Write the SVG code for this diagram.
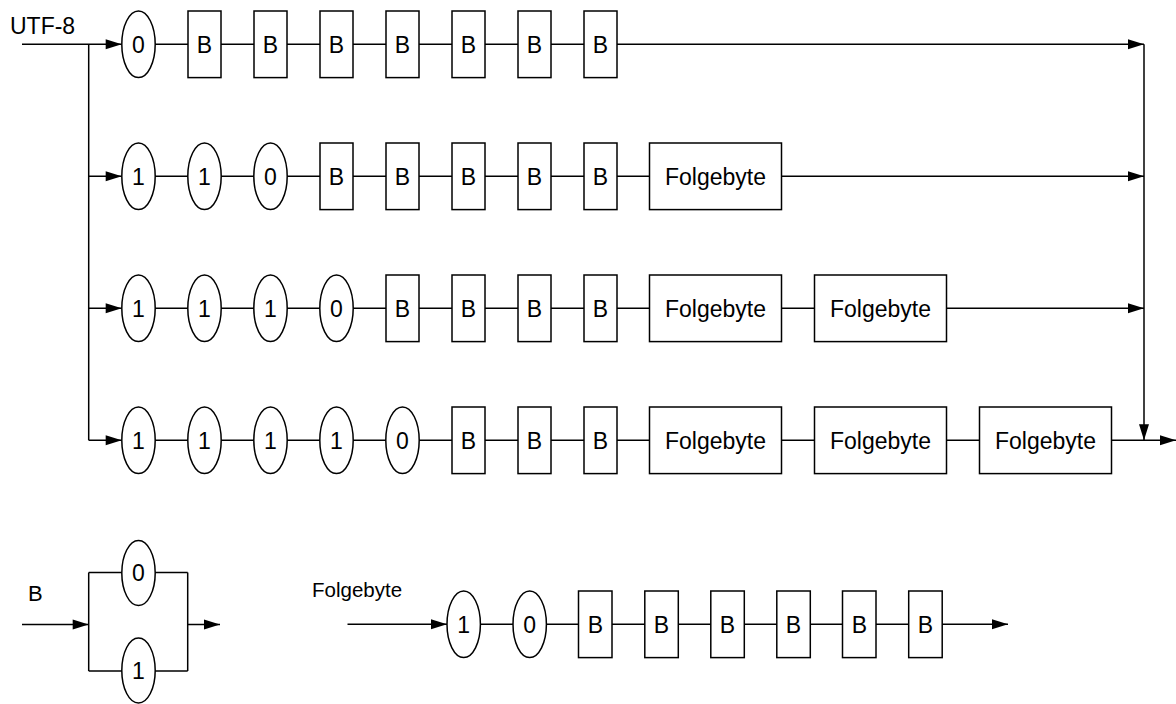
<svg xmlns="http://www.w3.org/2000/svg" width="1176" height="704" viewBox="0 0 1176 704">
<defs>
<marker id="ah" markerUnits="userSpaceOnUse" markerWidth="17" markerHeight="11" refX="16" refY="5" orient="auto" overflow="visible">
<path d="M0,0 L16,5 L0,10 z" fill="#000"/>
</marker>
<style>
.ln{fill:none;stroke:#000;stroke-width:1.5}
.ar{fill:none;stroke:#000;stroke-width:1.5;marker-end:url(#ah)}
.nd ellipse,.nd rect{fill:#fff;stroke:#000;stroke-width:1.5}
.nd text{font-family:"Liberation Sans",Arial,sans-serif;font-size:23px;text-anchor:middle;fill:#000}
.lb{font-family:"Liberation Sans",Arial,sans-serif;font-size:22px;fill:#000}
</style>
</defs>
<rect width="1176" height="704" fill="#fff"/>
<g id="connectors">
<path class="ar" d="M22,44.3 H121.7"/>
<path class="ln" d="M88.7,44.3 V440.3"/>
<path class="ar" d="M88.7,176.3 H121.7"/>
<path class="ar" d="M88.7,308.3 H121.7"/>
<path class="ar" d="M88.7,440.3 H121.7"/>
<path class="ar" d="M155,44.3 H1144"/>
<path class="ar" d="M155,176.3 H1144"/>
<path class="ar" d="M155,308.3 H1144"/>
<path class="ar" d="M155,440.3 H1176"/>
<path class="ar" d="M1144,44.3 V440.3"/>
<path class="ar" d="M22,624.5 H88.7"/>
<path class="ln" d="M88.7,572.5 V671 M88.7,572.5 H187.7 M88.7,671 H187.7 M187.7,572.5 V671"/>
<path class="ar" d="M187.7,624.5 H220"/>
<path class="ar" d="M347.5,624.3 H447"/>
<path class="ar" d="M480,624.3 H1008"/>
</g>
<text class="lb" x="10" y="34" style="font-size:23px">UTF-8</text>
<text class="lb" x="28" y="601">B</text>
<text class="lb" x="312" y="597" style="font-size:20.5px">Folgebyte</text>
<g id="row1" class="nd">
<g id="r1n0"><ellipse cx="138.5" cy="44.3" rx="16.7" ry="33.3"/><text x="138.5" y="52.5">0</text></g>
<g id="r1n1"><rect x="188" y="11" width="33" height="66.6"/><text x="204.5" y="52.5">B</text></g>
<g id="r1n2"><rect x="254" y="11" width="33" height="66.6"/><text x="270.5" y="52.5">B</text></g>
<g id="r1n3"><rect x="320" y="11" width="33" height="66.6"/><text x="336.5" y="52.5">B</text></g>
<g id="r1n4"><rect x="386" y="11" width="33" height="66.6"/><text x="402.5" y="52.5">B</text></g>
<g id="r1n5"><rect x="452" y="11" width="33" height="66.6"/><text x="468.5" y="52.5">B</text></g>
<g id="r1n6"><rect x="518" y="11" width="33" height="66.6"/><text x="534.5" y="52.5">B</text></g>
<g id="r1n7"><rect x="584" y="11" width="33" height="66.6"/><text x="600.5" y="52.5">B</text></g>
</g>
<g id="row2" class="nd">
<g id="r2n0"><ellipse cx="138.5" cy="176.3" rx="16.7" ry="33.3"/><text x="138.5" y="184.5">1</text></g>
<g id="r2n1"><ellipse cx="204.5" cy="176.3" rx="16.7" ry="33.3"/><text x="204.5" y="184.5">1</text></g>
<g id="r2n2"><ellipse cx="270.5" cy="176.3" rx="16.7" ry="33.3"/><text x="270.5" y="184.5">0</text></g>
<g id="r2n3"><rect x="320" y="143" width="33" height="66.6"/><text x="336.5" y="184.5">B</text></g>
<g id="r2n4"><rect x="386" y="143" width="33" height="66.6"/><text x="402.5" y="184.5">B</text></g>
<g id="r2n5"><rect x="452" y="143" width="33" height="66.6"/><text x="468.5" y="184.5">B</text></g>
<g id="r2n6"><rect x="518" y="143" width="33" height="66.6"/><text x="534.5" y="184.5">B</text></g>
<g id="r2n7"><rect x="584" y="143" width="33" height="66.6"/><text x="600.5" y="184.5">B</text></g>
<g id="r2f1"><rect x="649.5" y="143" width="132" height="66.6"/><text x="715.5" y="184.5">Folgebyte</text></g>
</g>
<g id="row3" class="nd">
<g id="r3n0"><ellipse cx="138.5" cy="308.3" rx="16.7" ry="33.3"/><text x="138.5" y="316.5">1</text></g>
<g id="r3n1"><ellipse cx="204.5" cy="308.3" rx="16.7" ry="33.3"/><text x="204.5" y="316.5">1</text></g>
<g id="r3n2"><ellipse cx="270.5" cy="308.3" rx="16.7" ry="33.3"/><text x="270.5" y="316.5">1</text></g>
<g id="r3n3"><ellipse cx="336.5" cy="308.3" rx="16.7" ry="33.3"/><text x="336.5" y="316.5">0</text></g>
<g id="r3n4"><rect x="386" y="275" width="33" height="66.6"/><text x="402.5" y="316.5">B</text></g>
<g id="r3n5"><rect x="452" y="275" width="33" height="66.6"/><text x="468.5" y="316.5">B</text></g>
<g id="r3n6"><rect x="518" y="275" width="33" height="66.6"/><text x="534.5" y="316.5">B</text></g>
<g id="r3n7"><rect x="584" y="275" width="33" height="66.6"/><text x="600.5" y="316.5">B</text></g>
<g id="r3f1"><rect x="649.5" y="275" width="132" height="66.6"/><text x="715.5" y="316.5">Folgebyte</text></g>
<g id="r3f2"><rect x="814.5" y="275" width="132" height="66.6"/><text x="880.5" y="316.5">Folgebyte</text></g>
</g>
<g id="row4" class="nd">
<g id="r4n0"><ellipse cx="138.5" cy="440.3" rx="16.7" ry="33.3"/><text x="138.5" y="448.5">1</text></g>
<g id="r4n1"><ellipse cx="204.5" cy="440.3" rx="16.7" ry="33.3"/><text x="204.5" y="448.5">1</text></g>
<g id="r4n2"><ellipse cx="270.5" cy="440.3" rx="16.7" ry="33.3"/><text x="270.5" y="448.5">1</text></g>
<g id="r4n3"><ellipse cx="336.5" cy="440.3" rx="16.7" ry="33.3"/><text x="336.5" y="448.5">1</text></g>
<g id="r4n4"><ellipse cx="402.5" cy="440.3" rx="16.7" ry="33.3"/><text x="402.5" y="448.5">0</text></g>
<g id="r4n5"><rect x="452" y="407" width="33" height="66.6"/><text x="468.5" y="448.5">B</text></g>
<g id="r4n6"><rect x="518" y="407" width="33" height="66.6"/><text x="534.5" y="448.5">B</text></g>
<g id="r4n7"><rect x="584" y="407" width="33" height="66.6"/><text x="600.5" y="448.5">B</text></g>
<g id="r4f1"><rect x="649.5" y="407" width="132" height="66.6"/><text x="715.5" y="448.5">Folgebyte</text></g>
<g id="r4f2"><rect x="814.5" y="407" width="132" height="66.6"/><text x="880.5" y="448.5">Folgebyte</text></g>
<g id="r4f3"><rect x="979.5" y="407" width="132" height="66.6"/><text x="1045.5" y="448.5">Folgebyte</text></g>
</g>
<g id="bdef" class="nd">
<g id="b0"><ellipse cx="138.5" cy="573" rx="16.7" ry="32.5"/><text x="138.5" y="581">0</text></g>
<g id="b1"><ellipse cx="138.5" cy="670.5" rx="16.7" ry="32.5"/><text x="138.5" y="678.5">1</text></g>
</g>
<g id="fdef" class="nd">
<g id="f0"><ellipse cx="463.7" cy="624.3" rx="16.7" ry="33.3"/><text x="463.7" y="632.5">1</text></g>
<g id="f1"><ellipse cx="529.7" cy="624.3" rx="16.7" ry="33.3"/><text x="529.7" y="632.5">0</text></g>
<g id="f2"><rect x="578.5" y="591" width="33.5" height="66.6"/><text x="595.3" y="632.5">B</text></g>
<g id="f3"><rect x="644.8" y="591" width="33.5" height="66.6"/><text x="661.5" y="632.5">B</text></g>
<g id="f4"><rect x="710.8" y="591" width="33.5" height="66.6"/><text x="727.5" y="632.5">B</text></g>
<g id="f5"><rect x="776.8" y="591" width="33.5" height="66.6"/><text x="793.5" y="632.5">B</text></g>
<g id="f6"><rect x="842.5" y="591" width="33.5" height="66.6"/><text x="859.3" y="632.5">B</text></g>
<g id="f7"><rect x="908.7" y="591" width="33.5" height="66.6"/><text x="925.5" y="632.5">B</text></g>
</g>
</svg>
